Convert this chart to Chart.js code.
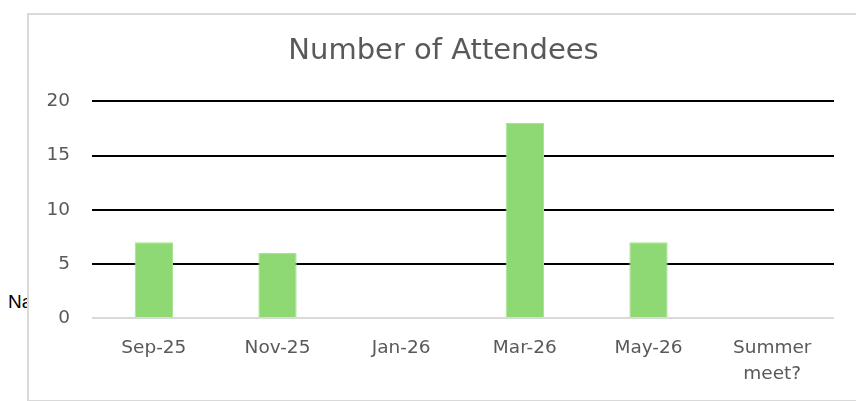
<!DOCTYPE html>
<html>
<head>
<meta charset="utf-8">
<script src="https://cdn.jsdelivr.net/npm/chart.js@4"></script>
<style>
    html, body { margin: 0; padding: 0; background: #fff; width: 856px; height: 401px; overflow: hidden; }
    #stray { position: absolute; left: 8px; top: 291px; font: 19px "Liberation Sans", Arial, sans-serif; color: #000; z-index: 0; }
    #frame { position: absolute; left: 27px; top: 13px; width: 860px; height: 385px; border: 2px solid #d9d9d9; background: #fff; z-index: 1; }
    #wrap { position: absolute; left: 0; top: 0; width: 829px; height: 385px; }
</style>
</head>
<body>
<div id="stray">Na</div>
<div id="frame">
    <div id="wrap"><canvas id="attendeesChart"></canvas></div>
</div>
<script>
const meetings = ['Sep-25', 'Nov-25', 'Jan-26', 'Mar-26', 'May-26', ['Summer', 'meet?']];
const attendees = [7, 6, 0, 18, 7, 0];
const yTicks = [0, 5, 10, 15, 20];

const fontFamily = '"DejaVu Sans", sans-serif';
const textGrey = '#595959';

const ctx = document.getElementById('attendeesChart').getContext('2d');

new Chart(ctx, {
    type: 'bar',
    data: {
        labels: meetings,
        datasets: [{
            label: 'Number of Attendees',
            data: attendees,
            backgroundColor: '#8fd974',
            borderColor: '#a8e592',
            borderWidth: 1,
            categoryPercentage: 1,
            barPercentage: 0.31
        }]
    },
    options: {
        responsive: true,
        maintainAspectRatio: false,
        animation: false,
        layout: { padding: 0 },
        plugins: {
            legend: { display: false },
            tooltip: { enabled: false },
            title: {
                display: true,
                text: 'Number of Attendees',
                color: textGrey,
                font: { family: fontFamily, size: 29, weight: 'normal', lineHeight: 1.2 },
                padding: { top: 18.6, bottom: 33 }
            }
        },
        scales: {
            x: {
                grid: { display: false },
                border: { display: false },
                ticks: {
                    color: textGrey,
                    font: { family: fontFamily, size: 18.5, lineHeight: 1.4 },
                    padding: 9,
                    maxRotation: 0,
                    autoSkip: false
                },
                afterFit: scale => {
                    scale.height = 82;
                    scale.paddingRight = 24; // gap on the right without moving the title
                }
            },
            y: {
                min: 0,
                max: 20,
                afterBuildTicks: scale => { scale.ticks = yTicks.map(v => ({ value: v })); },
                grid: {
                    drawTicks: false,
                    lineWidth: 2,
                    color: c => (c.tick && c.tick.value === 0 ? '#d9d9d9' : '#000000')
                },
                border: { display: false },
                ticks: {
                    color: textGrey,
                    font: { family: fontFamily, size: 18.5 },
                    padding: 22
                },
                afterFit: scale => { scale.width = 63; }
            }
        }
    }
});
</script>
</body>
</html>
